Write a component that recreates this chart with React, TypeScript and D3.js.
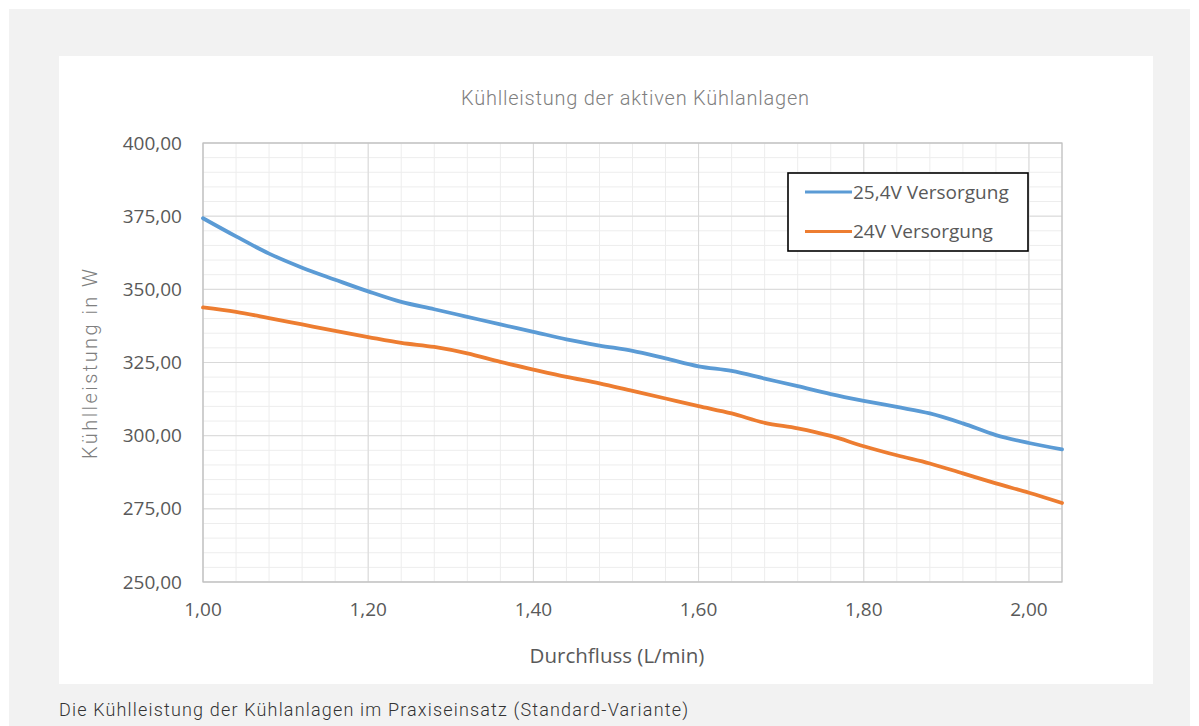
import React from 'react';
import * as d3 from 'd3';

// Durchfluss in L/min (Schrittweite 0,04)
const flow = [
  1.0, 1.04, 1.08, 1.12, 1.16, 1.2, 1.24, 1.28, 1.32, 1.36, 1.4, 1.44, 1.48, 1.52,
  1.56, 1.6, 1.64, 1.68, 1.72, 1.76, 1.8, 1.84, 1.88, 1.92, 1.96, 2.0, 2.04,
];
const supply254 = [
  374.3, 368.1, 362.2, 357.4, 353.3, 349.3, 345.7, 343.2, 340.6, 338.0, 335.5, 332.9,
  330.8, 329.0, 326.4, 323.7, 322.1, 319.5, 316.9, 314.2, 311.9, 309.8, 307.6, 304.2,
  300.2, 297.5, 295.3,
];
const supply24 = [
  343.8, 342.3, 340.2, 338.0, 335.8, 333.7, 331.7, 330.3, 328.1, 325.2, 322.6, 320.1,
  317.9, 315.3, 312.7, 310.1, 307.6, 304.4, 302.5, 299.9, 296.4, 293.3, 290.5, 287.1,
  283.7, 280.5, 277.0,
];
const seriesNames = ['25,4V Versorgung', '24V Versorgung'];
const seriesColors = ['#5b9bd5', '#ed7d31'];
const xTicks = [1.0, 1.2, 1.4, 1.6, 1.8, 2.0];
const yTicks = [250, 275, 300, 325, 350, 375, 400];

const W = 1199;
const H = 726;
const plot = { left: 203, top: 143, right: 1062, bottom: 582 };
const font = "'Open Sans', sans-serif";
const lightFont = "Roboto, 'Noto Sans', sans-serif";

export default function App() {
  const x = d3.scaleLinear().domain([1.0, 2.04]).range([plot.left, plot.right]);
  const y = d3.scaleLinear().domain([250, 400]).range([plot.bottom, plot.top]);

  const fmt = (v: number, d: number) => v.toFixed(d).replace('.', ',');

  const minorX = d3.range(1.0, 2.0401, 0.04);
  const minorY = d3.range(250, 400.01, 5);

  const line = d3
    .line<number>()
    .x((_, i) => x(flow[i]))
    .y((d) => y(d))
    .curve(d3.curveCatmullRom.alpha(0.5));

  const series = [supply254, supply24];

  return (
    <svg
      width={W}
      height={H}
      viewBox={`0 0 ${W} ${H}`}
      style={{ position: 'absolute', left: 0, top: 0, display: 'block' }}
    >
      <rect x={0} y={0} width={W} height={H} fill="#ffffff" />
      <rect x={9} y={9} width={1181} height={H - 9} fill="#f2f2f2" />
      <rect x={59} y={56} width={1094} height={628} fill="#ffffff" />

      {/* minor grid */}
      {minorX.map((v, i) => (
        <line key={`mx${i}`} x1={x(v)} x2={x(v)} y1={plot.top} y2={plot.bottom} stroke="#ededed" strokeWidth={1} />
      ))}
      {minorY.map((v, i) => (
        <line key={`my${i}`} x1={plot.left} x2={plot.right} y1={y(v)} y2={y(v)} stroke="#ededed" strokeWidth={1} />
      ))}
      {/* major grid */}
      {xTicks.map((v) => (
        <line key={`gx${v}`} x1={x(v)} x2={x(v)} y1={plot.top} y2={plot.bottom} stroke="#d9d9d9" strokeWidth={1} />
      ))}
      {yTicks.map((v) => (
        <line key={`gy${v}`} x1={plot.left} x2={plot.right} y1={y(v)} y2={y(v)} stroke="#d9d9d9" strokeWidth={1} />
      ))}
      <rect
        x={plot.left}
        y={plot.top}
        width={plot.right - plot.left}
        height={plot.bottom - plot.top}
        fill="none"
        stroke="#bfbfbf"
        strokeWidth={1.2}
      />

      {/* tick labels */}
      {yTicks.map((v) => (
        <text key={`ty${v}`} x={182} y={y(v)} dy="0.35em" textAnchor="end" fontFamily={font} fontSize={19} fill="#595959">
          {fmt(v, 2)}
        </text>
      ))}
      {xTicks.map((v) => (
        <text key={`tx${v}`} x={x(v)} y={616} textAnchor="middle" fontFamily={font} fontSize={19} fill="#595959">
          {fmt(v, 2)}
        </text>
      ))}

      {/* lines */}
      {series.map((s, i) => (
        <path key={`s${i}`} d={line(s) || ''} fill="none" stroke={seriesColors[i]} strokeWidth={3.8} strokeLinecap="round" />
      ))}

      {/* titles */}
      <text
        x={635}
        y={105}
        textAnchor="middle"
        fontFamily={lightFont}
        fontWeight={300}
        fontSize={20}
        fill="#7f7f7f"
        textLength={348}
        lengthAdjust="spacing"
      >
        Kühlleistung der aktiven Kühlanlagen
      </text>
      <text
        transform={`translate(97, 364) rotate(-90)`}
        textAnchor="middle"
        fontFamily={lightFont}
        fontWeight={300}
        fontSize={20}
        fill="#7f7f7f"
        textLength={190}
        lengthAdjust="spacing"
      >
        Kühlleistung in W
      </text>
      <text x={617} y={663} textAnchor="middle" fontFamily={font} fontSize={20.5} fill="#595959">
        Durchfluss (L/min)
      </text>

      {/* legend */}
      <rect x={788} y={173} width={240} height={78} fill="#ffffff" stroke="#000000" strokeWidth={1.6} />
      {seriesNames.map((name, i) => (
        <g key={name} transform={`translate(0, ${192 + i * 39.5})`}>
          <line x1={805} x2={852} y1={0} y2={0} stroke={seriesColors[i]} strokeWidth={3} />
          <text x={853} y={0} dy="0.35em" fontFamily={font} fontSize={19} fill="#595959">
            {name}
          </text>
        </g>
      ))}

      {/* caption */}
      <text
        x={59}
        y={716}
        fontFamily={lightFont}
        fontWeight={300}
        fontSize={18}
        fill="#333333"
        textLength={629}
        lengthAdjust="spacing"
      >
        Die Kühlleistung der Kühlanlagen im Praxiseinsatz (Standard-Variante)
      </text>
    </svg>
  );
}
